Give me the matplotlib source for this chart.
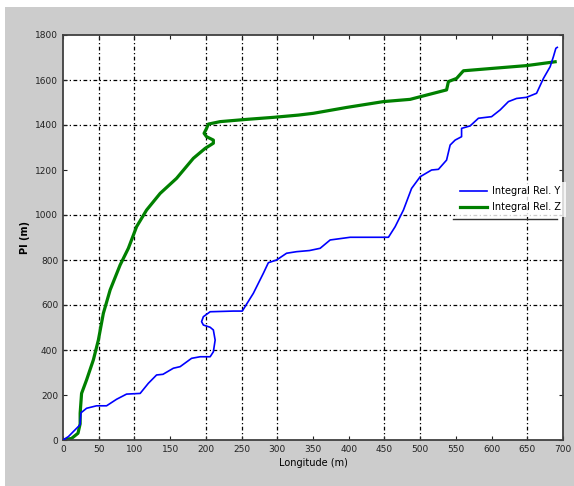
import matplotlib
matplotlib.use("Agg")
import matplotlib.pyplot as plt
from matplotlib.patches import Rectangle

# Integral Rel. Y (blue)
y_x = [0, 7.5, 19, 23.8, 25.2, 33, 47, 61, 75, 89, 108, 119.5, 131, 140, 154.5, 164, 180, 192,
       206, 210.5, 213, 210.5, 206, 196.5, 194, 196.5, 206, 238.5, 251, 266.5, 280.5, 287.5,
       299, 313, 327, 345, 360, 374, 402, 455.6, 465, 476.6, 488, 500, 516, 525.6, 537, 542,
       549, 558, 558, 570, 581.6, 600, 612, 623.6, 635, 649, 663, 672.6, 682, 686.6, 690, 692]
y_v = [0, 15, 52, 67, 121, 141, 152, 152, 181, 204, 207, 252, 289, 292, 319, 326, 363, 370,
       370, 392, 444, 489, 501, 511, 526, 548, 570, 573, 573, 652, 741, 788,
       800, 830, 837, 842, 852, 889, 901, 901, 948, 1022, 1118, 1170, 1200, 1203, 1244, 1311,
       1333, 1348, 1385, 1396, 1430, 1437, 1467, 1504, 1518, 1523, 1541, 1607, 1659, 1704, 1741, 1745]

# Integral Rel. Z (green)
z_x = [0, 12, 21, 24, 24, 26, 33, 42.5, 49.5, 56.5, 66, 80, 91.5, 103, 117, 136, 159, 182.5,
       199, 210.5, 210.5, 201, 197.5, 201, 203.5, 220, 257, 294.5, 329.5, 350.5, 397, 448.6,
       486, 509, 537, 539.6, 551, 560.6, 602.6, 649, 689]
z_v = [0, 7, 30, 72, 119, 207, 267, 356, 444, 563, 667, 778, 852, 948, 1022, 1096, 1163, 1252,
       1296, 1319, 1333, 1348, 1363, 1385, 1404, 1415, 1425, 1434, 1444, 1452, 1478, 1504,
       1514, 1533, 1556, 1593, 1607, 1641, 1652, 1664, 1681]

x_ticks = list(range(0, 701, 50))
y_ticks = list(range(0, 1801, 200))
x_grid = [50, 100, 200, 250, 300, 450, 500, 650]
y_grid = [400, 600, 800, 1000, 1400, 1600]

W, H = 574, 486
fig = plt.figure(figsize=(W / 100, H / 100), dpi=100)
fig.patch.set_facecolor("white")
fig.patches.append(Rectangle((5 / W, 0), 1 - 5 / W, (H - 7) / H, transform=fig.transFigure,
                             facecolor="#cccccc", edgecolor="none", zorder=-10))

ax = fig.add_axes([63 / W, (H - 440) / H, 500 / W, 405 / H])
ax.set_zorder(5)
ax.set_facecolor("white")

for gx in x_grid:
    ax.axvline(gx, color="black", lw=0.9, ls=(0, (3, 2, 1, 2)), zorder=1)
for gy in y_grid:
    ax.axhline(gy, color="black", lw=0.9, ls=(0, (3, 2, 1, 2)), zorder=1)

ax.plot(y_x, y_v, color="#0000ff", lw=1.2, label="Integral Rel. Y", zorder=3)
ax.plot(z_x, z_v, color="#008000", lw=2.3, label="Integral Rel. Z", zorder=2)

ax.set_xlim(0, 700)
ax.set_ylim(0, 1800)
ax.set_xticks(x_ticks)
ax.set_yticks(y_ticks)
ax.tick_params(direction="in", length=3, width=0.8, labelsize=6.5, colors="#222222",
               top=True, right=True)
for s in ax.spines.values():
    s.set_color("#404040")
    s.set_linewidth(1.3)

ax.set_xlabel("Longitude (m)", fontsize=7, labelpad=3)
ax.set_ylabel("PI (m)", fontsize=7, fontweight="bold", labelpad=4)

leg = ax.legend(loc="upper left", bbox_to_anchor=(0.775, 0.65), fontsize=7, frameon=True,
                handlelength=2.8, handletextpad=0.5, borderpad=0.5, labelspacing=0.6,
                fancybox=False)
leg.get_frame().set_edgecolor("none")
leg.get_frame().set_facecolor("white")
leg.set_zorder(6)

# legend box bottom edge (only visible side of the frame in the reference)
ax.plot([0.78, 0.988], [0.545, 0.545], transform=ax.transAxes, color="#333333", lw=1.0,
        zorder=7, clip_on=False)

fig.savefig("out.png", dpi=100)
